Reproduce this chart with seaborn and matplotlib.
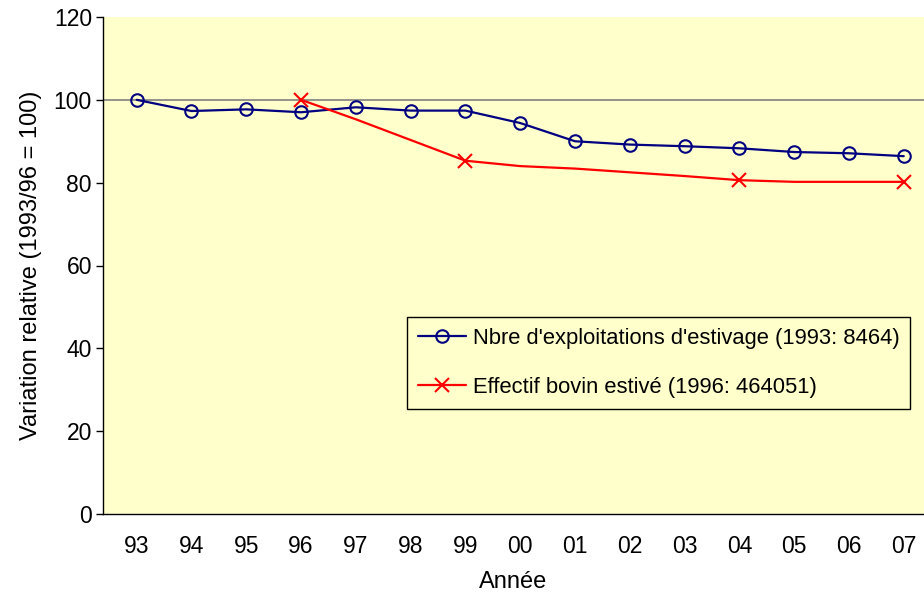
import matplotlib
matplotlib.use("Agg")
import matplotlib.pyplot as plt
import seaborn as sns
import pandas as pd

# Data (index 1993/96 = 100)
years = ["93", "94", "95", "96", "97", "98", "99", "00", "01", "02", "03", "04", "05", "06", "07"]
exploitations = [100, 97.3, 97.7, 97.0, 98.2, 97.4, 97.4, 94.4, 90.0, 89.2, 88.8, 88.3, 87.4, 87.1, 86.4]
bovin_years = ["96", "97", "98", "99", "00", "01", "02", "03", "04", "05", "06", "07"]
bovin = [100, 95.3, 90.3, 85.3, 84.0, 83.4, 82.5, 81.6, 80.6, 80.2, 80.2, 80.2]
bovin_marked = ["96", "99", "04", "07"]

label_expl = "Nbre d'exploitations d'estivage (1993: 8464)"
label_bov = "Effectif bovin estivé (1996: 464051)"

sns.set_style("ticks")
plt.rcParams['font.family'] = ['Liberation Sans', 'DejaVu Sans']
plt.rcParams['text.color'] = 'black'
plt.rcParams['axes.labelcolor'] = 'black'
plt.rcParams['xtick.color'] = 'black'
plt.rcParams['ytick.color'] = 'black'

df_expl = pd.DataFrame({"x": [years.index(y) for y in years], "val": exploitations})
df_bov = pd.DataFrame({"x": [years.index(y) for y in bovin_years], "val": bovin})
mark_idx = [bovin_years.index(y) for y in bovin_marked]

fs_tick = 16.5
fs_lab = 17
fs_leg = 15.8

fig = plt.figure(figsize=(9.24, 5.97), dpi=100)
ax = fig.add_axes([103 / 924, 83 / 597, 821 / 924, 497 / 597])
ax.set_facecolor("#FFFFCC")

ax.axhline(100, color="#808080", lw=1.2, zorder=1)

sns.lineplot(data=df_expl, x="x", y="val", ax=ax, color="#000080", lw=1.6,
             marker="o", markersize=9, markerfacecolor="none",
             markeredgecolor="#000080", markeredgewidth=1.5, label=label_expl)
sns.lineplot(data=df_bov, x="x", y="val", ax=ax, color="#FF0000", lw=1.6,
             marker="x", markersize=10, markeredgewidth=1.5,
             markeredgecolor="#FF0000", markevery=mark_idx, label=label_bov)

ax.set_xlim(-0.615, 14.37)
ax.set_ylim(0, 120)
ax.set_yticks(range(0, 121, 20))
ax.set_xticks(range(len(years)))
ax.set_xticklabels(years)
ax.tick_params(axis="y", labelsize=fs_tick, length=5, width=1, color="black", pad=3)
ax.tick_params(axis="x", labelsize=fs_tick, length=0, pad=15)

for s in ["top", "right"]:
    ax.spines[s].set_visible(False)
for s in ["left", "bottom"]:
    ax.spines[s].set_color("black")
    ax.spines[s].set_linewidth(1)

ax.set_xlabel("Année", fontsize=fs_lab)
ax.set_ylabel("Variation relative (1993/96 = 100)", fontsize=fs_lab)
ax.yaxis.set_label_coords(-(103 - 31) / 821, 0.5)
ax.xaxis.set_label_coords(0.5, -(582 - 514) / 497)
ax.xaxis.label.set_va("center")
ax.yaxis.label.set_va("center")

leg = ax.legend(loc="upper left", bbox_to_anchor=(0.370, 0.396), borderaxespad=0,
                fontsize=fs_leg, frameon=True, fancybox=False, facecolor="#FFFFCC",
                edgecolor="black", framealpha=1, handlelength=2.2, labelspacing=1.25,
                borderpad=0.5, handletextpad=0.3)
leg.get_frame().set_linewidth(1)

fig.savefig("out.png", dpi=100)
